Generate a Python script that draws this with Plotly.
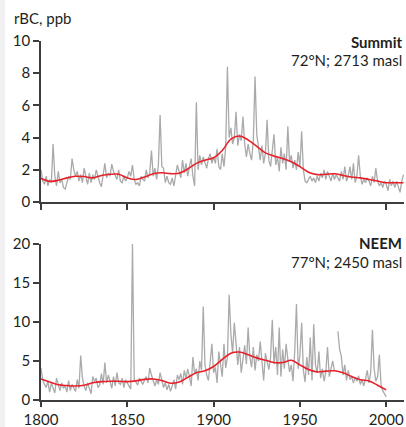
import plotly.graph_objects as go
from plotly.subplots import make_subplots

# Summit (72°N; 2713 masl) annual rBC, 1800-2010
summit_years = list(range(1800, 2011))
summit_rbc = [
    2.0, 1.3, 1.1, 1.6, 1.0, 1.4, 1.2, 3.6, 1.6, 1.0,
    1.9, 1.2, 1.4, 0.9, 0.8, 1.3, 1.6, 1.4, 2.7, 2.0,
    1.6, 1.9, 1.3, 1.7, 1.2, 2.1, 1.5, 1.1, 1.8, 1.2,
    1.7, 1.4, 2.0, 1.5, 1.2, 0.95, 1.6, 2.4, 1.5, 1.8,
    1.6, 2.35, 1.9, 1.7, 1.4, 2.0, 1.3, 1.2, 1.6, 1.3,
    1.5, 1.9, 1.6, 2.3, 1.4, 1.1, 1.2, 1.0, 1.6, 1.4,
    1.3, 2.0, 1.5, 1.8, 3.2, 1.6, 2.1, 1.4, 2.3, 5.4,
    2.2, 2.1, 1.2, 1.6, 1.2, 1.1, 1.5, 1.0, 1.6, 2.3,
    1.9, 1.5, 2.6, 1.8, 2.4, 1.6, 2.2, 2.7, 1.6, 1.0,
    6.2, 2.0, 2.9, 2.3, 2.8, 2.5, 2.1, 2.7, 3.0, 2.4,
    2.8, 2.4, 3.3, 2.2, 2.0, 3.0, 2.2, 3.4, 8.4, 4.0,
    4.6, 3.6, 4.0, 5.6, 3.5, 4.2, 3.8, 5.3, 3.6, 2.8,
    3.6, 3.0, 2.6, 3.8, 7.8, 4.2, 3.2, 2.6, 3.5, 2.4,
    3.0, 5.1, 2.6, 2.2, 3.2, 4.2, 2.3, 2.8, 1.9, 3.4,
    2.4, 3.0, 2.0, 4.7, 2.5, 2.9, 2.1, 2.6, 2.0, 3.1,
    2.2, 4.4, 2.0, 1.3, 1.2, 1.4, 1.6, 1.3, 1.5, 1.2,
    1.6, 1.3, 1.8, 1.5, 2.0, 1.4, 1.9, 1.6, 1.3, 1.8,
    1.4, 1.7, 1.5, 1.3, 1.9, 1.4, 2.2, 1.3, 1.6, 2.2,
    1.4, 2.4, 1.2, 1.6, 2.9, 1.6, 1.1, 1.4, 1.2, 1.5,
    1.3, 1.0, 1.6, 1.2, 2.1, 1.3, 1.0, 1.2, 0.9, 1.3,
    1.1, 0.7, 1.4, 1.0, 1.3, 0.9, 1.3, 1.0, 0.6, 1.3,
    1.7,
]

# Summit smoothed curve
summit_smooth_years = list(range(1800, 2011, 5))
summit_smooth = [
    1.47, 1.28, 1.35, 1.5, 1.6, 1.58, 1.5, 1.65, 1.72, 1.72,
    1.5, 1.4, 1.55, 1.75, 1.82, 1.76, 1.78, 2.05, 2.4, 2.6,
    2.75, 3.2, 3.9, 4.1, 3.85, 3.45, 3.05, 2.85, 2.7, 2.5,
    2.2, 1.85, 1.7, 1.72, 1.75, 1.65, 1.55, 1.5, 1.4, 1.3,
    1.2, 1.2, 1.2,
]

# NEEM (77°N; 2450 masl) annual rBC, 1800-2000 (gap in 1971)
neem_years = list(range(1800, 2001))
neem_rbc = [
    4.1, 2.6, 2.0, 1.6, 2.4, 1.0, 2.2, 1.4, 0.9, 2.8,
    1.8, 1.2, 2.2, 1.5, 1.8, 1.0, 2.5, 1.2, 2.0, 1.5,
    1.1, 2.6, 1.5, 5.7, 2.8, 1.8, 1.2, 2.2, 1.6, 0.8,
    3.0, 2.4, 2.8, 1.6, 1.9, 3.4, 2.0, 4.8, 2.2, 3.2,
    2.4, 1.5, 3.0, 1.8, 3.5, 2.2, 2.0, 2.8, 1.6, 2.6,
    2.2, 1.8, 1.4, 20.0, 2.6, 2.3, 1.9, 2.8, 2.4, 2.0,
    2.6, 3.0, 2.2, 4.1, 3.2, 2.4, 1.8, 2.6, 2.0, 3.5,
    2.4, 1.6, 2.2, 1.3, 2.0, 1.1, 1.8, 2.6, 1.4, 3.2,
    2.6, 3.4, 2.0, 3.8, 2.8, 4.0, 3.0, 1.8, 5.5, 3.4,
    4.0, 2.5, 5.0, 3.8, 12.0, 4.5, 3.2, 2.5, 4.8, 7.2,
    3.5, 4.2, 2.2, 6.2, 4.6, 3.0, 7.2, 4.1, 5.5, 13.5,
    8.5, 6.0, 9.9, 7.2, 4.5, 6.8, 3.5, 5.2, 7.0, 4.6,
    9.3, 5.5, 4.2, 6.8, 3.8, 5.8, 5.0, 7.5, 4.6, 2.5,
    6.0, 4.8, 3.9, 5.5, 10.3, 4.6, 6.8, 3.2, 9.3, 3.0,
    6.5, 4.0, 7.2, 5.2, 3.6, 4.5, 2.4, 6.3, 12.3, 4.0,
    5.8, 9.9, 3.8, 2.3, 5.5, 3.2, 8.0, 2.5, 9.7, 4.5,
    3.5, 6.2, 2.8, 4.0, 2.4, 3.6, 6.8, 3.0, 4.2, 5.0,
    3.8, None, 8.8, 6.5, 5.6, 3.2, 4.5, 2.5, 3.8, 2.6,
    3.0, 2.2, 2.9, 2.4, 3.1, 2.0, 2.6, 1.8, 2.7, 3.8,
    2.2, 3.5, 9.0, 4.0, 2.4, 3.0, 5.8, 2.0, 1.2, 0.8,
    0.4,
]

# NEEM smoothed curve
neem_smooth_years = list(range(1800, 2001, 5))
neem_smooth = [
    2.7, 2.3, 1.95, 1.85, 1.8, 1.9, 2.2, 2.35, 2.4, 2.4,
    2.35, 2.45, 2.65, 2.7, 2.5, 2.15, 2.3, 2.9, 3.5, 3.75,
    4.3, 5.2, 6.0, 6.15, 5.8, 5.4, 5.1, 4.8, 4.8, 5.1,
    4.5, 3.9, 3.6, 3.7, 3.75, 3.5, 3.0, 2.6, 2.45, 1.9,
    1.3,
]

x_ticks = [1800, 1850, 1900, 1950, 2000]
summit_y_ticks = [0, 2, 4, 6, 8, 10]
neem_y_ticks = [0, 5, 10, 15, 20]

GRAY = "#aaaaaa"
RED = "#e8202a"
AXIS = "#3d3d3d"
TEXT = "#231f20"
FONT = "Lato"

# plot area: 41 px from top, 27 px from bottom -> 359 px tall
TOP, BOTTOM = 41, 27
PLOT_BOTTOM = 427 - BOTTOM
PLOT_H = float(427 - TOP - BOTTOM)


def py(px_from_top):
    """Convert a pixel row (from page top) into a paper y fraction."""
    return (PLOT_BOTTOM - px_from_top) / PLOT_H


fig = make_subplots(rows=2, cols=1, vertical_spacing=0.0)

fig.add_trace(go.Scatter(x=summit_years, y=summit_rbc, mode="lines",
                         line=dict(color=GRAY, width=1.3)), row=1, col=1)
fig.add_trace(go.Scatter(x=summit_smooth_years, y=summit_smooth, mode="lines",
                         line=dict(color=RED, width=1.6, shape="spline")),
              row=1, col=1)
fig.add_trace(go.Scatter(x=neem_years, y=neem_rbc, mode="lines", connectgaps=False,
                         line=dict(color=GRAY, width=1.3)), row=2, col=1)
fig.add_trace(go.Scatter(x=neem_smooth_years, y=neem_smooth, mode="lines",
                         line=dict(color=RED, width=1.6, shape="spline")),
              row=2, col=1)

axis_common = dict(showgrid=False, zeroline=False, showline=True,
                   linecolor=AXIS, linewidth=1.5, ticks="outside",
                   ticklen=6, tickwidth=1.5, tickcolor=AXIS, automargin=False,
                   tickfont=dict(family=FONT, size=15, color=TEXT))

fig.update_xaxes(range=[1800, 2010.3], tickvals=x_ticks, **axis_common)
fig.update_xaxes(showticklabels=False, row=1, col=1)
fig.update_xaxes(ticktext=[str(v) for v in x_ticks], ticklen=5, row=2, col=1)
fig.update_yaxes(**axis_common)
fig.update_yaxes(range=[0, 10], tickvals=summit_y_ticks, domain=[py(202), 1.0],
                 row=1, col=1)
fig.update_yaxes(range=[0, 20], tickvals=neem_y_ticks, domain=[0.0, py(244)],
                 row=2, col=1)

annots = [
    dict(text="rBC, ppb", x=-0.08, y=py(18), xanchor="left"),
    dict(text="<b>Summit</b>", x=1.0, y=py(42), xanchor="right"),
    dict(text="72°N; 2713 masl", x=1.0, y=py(60), xanchor="right"),
    dict(text="<b>NEEM</b>", x=1.0, y=py(243), xanchor="right"),
    dict(text="77°N; 2450 masl", x=1.0, y=py(262), xanchor="right"),
]
for a in annots:
    fig.add_annotation(xref="paper", yref="paper", showarrow=False,
                       yanchor="middle",
                       font=dict(family=FONT, size=15, color=TEXT), **a)

# thin light strip along the left edge of the page
fig.add_shape(type="rect", xref="paper", yref="paper",
              x0=-41 / 363, x1=-36 / 363, y0=py(427), y1=py(0),
              fillcolor="#f1f1f4", line=dict(width=0), layer="below")

fig.update_layout(width=406, height=427, showlegend=False,
                  margin=dict(l=41, r=2, t=TOP, b=BOTTOM),
                  paper_bgcolor="white", plot_bgcolor="white")

fig.write_html("out.html")
